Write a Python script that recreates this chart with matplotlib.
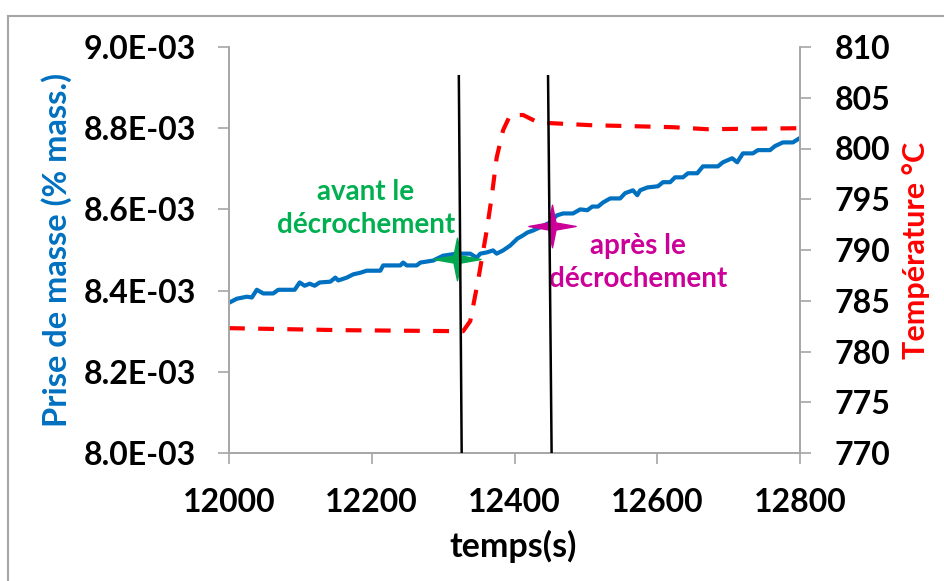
import numpy as np
import matplotlib.pyplot as plt
from matplotlib.path import Path
from matplotlib.lines import Line2D
from matplotlib.ticker import FuncFormatter, MultipleLocator

plt.rcParams['font.family'] = ['Lato', 'DejaVu Sans']
plt.rcParams['font.weight'] = 'bold'

# mass gain (blue, left axis)
t_mass = [12000, 12011, 12025, 12032, 12039, 12048, 12062, 12069, 12092, 12099,
          12106, 12113, 12120, 12127, 12142, 12149, 12153, 12165, 12174, 12184,
          12193, 12212, 12216, 12240, 12244, 12249, 12263, 12268, 12286, 12300,
          12319, 12338, 12347, 12352, 12361, 12370, 12375, 12384, 12394, 12404,
          12412, 12418, 12426, 12436, 12450, 12459, 12468, 12482, 12492, 12502,
          12509, 12517, 12524, 12534, 12548, 12555, 12566, 12572, 12576, 12586,
          12601, 12608, 12618, 12625, 12636, 12643, 12656, 12664, 12685, 12692,
          12705, 12712, 12720, 12734, 12741, 12758, 12765, 12776, 12790, 12800]
mass = [8.370, 8.380, 8.385, 8.383, 8.402, 8.393, 8.393, 8.402, 8.402, 8.420,
        8.412, 8.417, 8.412, 8.420, 8.422, 8.432, 8.425, 8.432, 8.440, 8.444,
        8.449, 8.449, 8.462, 8.462, 8.469, 8.462, 8.462, 8.469, 8.474, 8.486,
        8.491, 8.491, 8.481, 8.491, 8.494, 8.499, 8.491, 8.499, 8.511, 8.528,
        8.536, 8.543, 8.548, 8.556, 8.568, 8.585, 8.590, 8.590, 8.600, 8.598,
        8.607, 8.607, 8.617, 8.627, 8.627, 8.640, 8.647, 8.635, 8.647, 8.654,
        8.657, 8.667, 8.667, 8.679, 8.679, 8.689, 8.689, 8.706, 8.706, 8.716,
        8.726, 8.716, 8.738, 8.738, 8.746, 8.746, 8.756, 8.765, 8.765, 8.776]
mass = np.array(mass) * 1e-3

# temperature (red dashed, right axis)
t_temp = [12000, 12160, 12328, 12338, 12349, 12361, 12368, 12375, 12384, 12394,
          12412, 12432, 12450, 12506, 12622, 12670, 12800]
temp = [782.3, 782.1, 782.0, 783.0, 787.0, 791.9, 795.2, 799.1, 801.8, 803.3,
        803.3, 802.6, 802.5, 802.3, 802.1, 801.9, 802.0]

# the two vertical markers (slightly slanted as drawn by hand)
cut_x = [(12322, 12326), (12447, 12452)]
cut_y = (8.928e-3, 8.0e-3)

# star points
star_x = [12319, 12453]
star_y = [8.479e-3, 8.560e-3]
star_colors = ['#00A650', '#CC0099']

gray = '#A6A6A6'

fig = plt.figure(figsize=(9.45, 5.81), dpi=100)
ax = fig.add_axes([229 / 945, 1 - 453 / 581, 571 / 945, 406 / 581])
ax2 = ax.twinx()

ax.plot(t_mass, mass, color='#0070C0', lw=3.0, solid_joinstyle='round', zorder=2)
ax2.plot(t_temp, temp, color='#FF0000', lw=3.0, dashes=(3.8, 3.2), zorder=2)

# 4-pointed star marker
k = 0.15
h = 0.9
star = Path([(0, h), (k, k), (1, 0), (k, -k), (0, -h), (-k, -k), (-1, 0), (-k, k), (0, h)],
            [Path.MOVETO] + [Path.LINETO] * 7 + [Path.CLOSEPOLY])
for sx, sy, c in zip(star_x, star_y, star_colors):
    ax2.plot([sx], [sy], marker=star, ms=34, color=c, mec=c, ls='none',
             transform=ax.transData, zorder=3)

for xs in cut_x:
    ax2.plot(xs, cut_y, color='black', lw=1.8, transform=ax.transData, zorder=4)

ax.text(12192, 8.602e-3, 'avant le\ndécrochement', color='#00B050', fontsize=20,
        ha='center', va='center', linespacing=1.3)
ax.text(12573, 8.469e-3, 'après le\ndécrochement', color='#CC0099', fontsize=20,
        ha='center', va='center', linespacing=1.3)

ax.set_xlim(12000, 12800)
ax.set_ylim(8.0e-3, 9.0e-3)
ax2.set_ylim(770, 810)
ax.xaxis.set_major_locator(MultipleLocator(200))
ax.yaxis.set_major_locator(MultipleLocator(0.2e-3))
ax2.yaxis.set_major_locator(MultipleLocator(5))
ax.yaxis.set_major_formatter(FuncFormatter(lambda v, p: f'{v:.1E}'))

for a in (ax, ax2):
    a.spines['top'].set_visible(False)
    for s in ('left', 'right', 'bottom'):
        a.spines[s].set_color(gray)
        a.spines[s].set_linewidth(1.2)
    a.tick_params(colors='black', labelsize=23, length=8, width=1.2, color=gray)
ax.tick_params(axis='y', pad=16)
ax2.tick_params(axis='y', pad=17)
ax.tick_params(axis='x', pad=17)

ax.set_xlabel('temps(s)', fontsize=24.5, fontweight='bold')
ax.set_ylabel('Prise de masse (% mass.)', fontsize=23.5, fontweight='bold', color='#0070C0')
ax2.set_ylabel('Température °C', fontsize=22, fontweight='bold', color='#FF0000')
ax.xaxis.set_label_coords(0.497, -0.19)
ax.yaxis.set_label_coords(-0.275, 0.5)
ax2.yaxis.set_label_coords(1.179, 0.5)

# chart border (only left and top visible)
fig.add_artist(Line2D([8 / 945, 8 / 945], [0, 1 - 16 / 581], color=gray, lw=1.5))
fig.add_artist(Line2D([8 / 945, 1], [1 - 16 / 581, 1 - 16 / 581], color=gray, lw=1.5))

fig.savefig('out.png', dpi=100)
